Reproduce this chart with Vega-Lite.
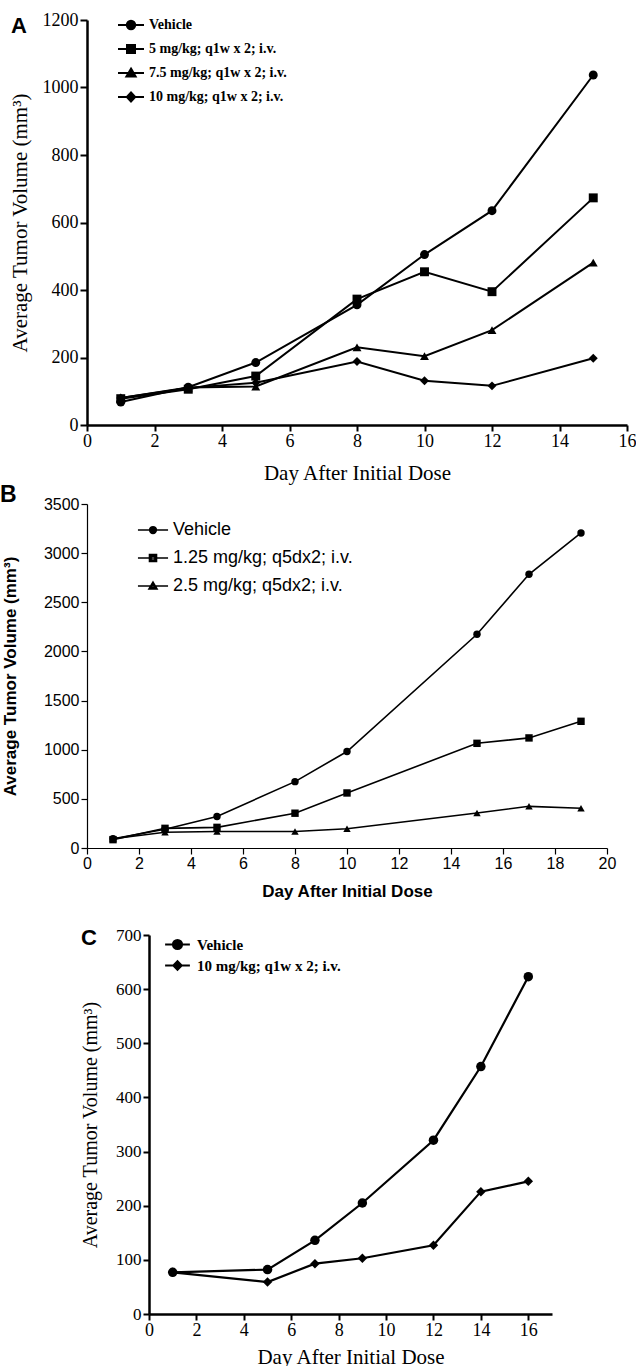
{
  "$schema": "https://vega.github.io/schema/vega-lite/v6.json",
  "padding": {"left": 0, "top": 11, "right": 0, "bottom": 0},
  "background": "white",
  "config": {
    "view": {"stroke": null},
    "axis": {"grid": false, "domainColor": "#000", "tickColor": "#000", "labelColor": "#000", "titleColor": "#000", "labelFlush": false, "labelOverlap": false, "format": "d"}
  },
  "datasets": {
    "d": [
      {"panel": "A", "group": "Vehicle", "day": 1, "volume": 68},
      {"panel": "A", "group": "Vehicle", "day": 3, "volume": 112},
      {"panel": "A", "group": "Vehicle", "day": 5, "volume": 185},
      {"panel": "A", "group": "Vehicle", "day": 8, "volume": 356},
      {"panel": "A", "group": "Vehicle", "day": 10, "volume": 505},
      {"panel": "A", "group": "Vehicle", "day": 12, "volume": 635},
      {"panel": "A", "group": "Vehicle", "day": 15, "volume": 1037},
      {"panel": "A", "group": "5 mg/kg; q1w x 2; i.v.", "day": 1, "volume": 78},
      {"panel": "A", "group": "5 mg/kg; q1w x 2; i.v.", "day": 3, "volume": 106},
      {"panel": "A", "group": "5 mg/kg; q1w x 2; i.v.", "day": 5, "volume": 145},
      {"panel": "A", "group": "5 mg/kg; q1w x 2; i.v.", "day": 8, "volume": 373},
      {"panel": "A", "group": "5 mg/kg; q1w x 2; i.v.", "day": 10, "volume": 454},
      {"panel": "A", "group": "5 mg/kg; q1w x 2; i.v.", "day": 12, "volume": 395},
      {"panel": "A", "group": "5 mg/kg; q1w x 2; i.v.", "day": 15, "volume": 673},
      {"panel": "A", "group": "7.5 mg/kg; q1w x 2; i.v.", "day": 1, "volume": 80},
      {"panel": "A", "group": "7.5 mg/kg; q1w x 2; i.v.", "day": 3, "volume": 111},
      {"panel": "A", "group": "7.5 mg/kg; q1w x 2; i.v.", "day": 5, "volume": 114},
      {"panel": "A", "group": "7.5 mg/kg; q1w x 2; i.v.", "day": 8, "volume": 230},
      {"panel": "A", "group": "7.5 mg/kg; q1w x 2; i.v.", "day": 10, "volume": 204},
      {"panel": "A", "group": "7.5 mg/kg; q1w x 2; i.v.", "day": 12, "volume": 281},
      {"panel": "A", "group": "7.5 mg/kg; q1w x 2; i.v.", "day": 15, "volume": 481},
      {"panel": "A", "group": "10 mg/kg; q1w x 2; i.v.", "day": 1, "volume": 80},
      {"panel": "A", "group": "10 mg/kg; q1w x 2; i.v.", "day": 3, "volume": 110},
      {"panel": "A", "group": "10 mg/kg; q1w x 2; i.v.", "day": 5, "volume": 125},
      {"panel": "A", "group": "10 mg/kg; q1w x 2; i.v.", "day": 8, "volume": 188},
      {"panel": "A", "group": "10 mg/kg; q1w x 2; i.v.", "day": 10, "volume": 131},
      {"panel": "A", "group": "10 mg/kg; q1w x 2; i.v.", "day": 12, "volume": 116},
      {"panel": "A", "group": "10 mg/kg; q1w x 2; i.v.", "day": 15, "volume": 198},
      {"panel": "B", "group": "Vehicle", "day": 1, "volume": 94},
      {"panel": "B", "group": "Vehicle", "day": 3, "volume": 190},
      {"panel": "B", "group": "Vehicle", "day": 5, "volume": 320},
      {"panel": "B", "group": "Vehicle", "day": 8, "volume": 675},
      {"panel": "B", "group": "Vehicle", "day": 10, "volume": 982},
      {"panel": "B", "group": "Vehicle", "day": 15, "volume": 2175},
      {"panel": "B", "group": "Vehicle", "day": 17, "volume": 2785},
      {"panel": "B", "group": "Vehicle", "day": 19, "volume": 3205},
      {"panel": "B", "group": "1.25 mg/kg; q5dx2; i.v.", "day": 1, "volume": 85},
      {"panel": "B", "group": "1.25 mg/kg; q5dx2; i.v.", "day": 3, "volume": 200},
      {"panel": "B", "group": "1.25 mg/kg; q5dx2; i.v.", "day": 5, "volume": 210},
      {"panel": "B", "group": "1.25 mg/kg; q5dx2; i.v.", "day": 8, "volume": 354},
      {"panel": "B", "group": "1.25 mg/kg; q5dx2; i.v.", "day": 10, "volume": 560},
      {"panel": "B", "group": "1.25 mg/kg; q5dx2; i.v.", "day": 15, "volume": 1065},
      {"panel": "B", "group": "1.25 mg/kg; q5dx2; i.v.", "day": 17, "volume": 1120},
      {"panel": "B", "group": "1.25 mg/kg; q5dx2; i.v.", "day": 19, "volume": 1289},
      {"panel": "B", "group": "2.5 mg/kg; q5dx2; i.v.", "day": 1, "volume": 94},
      {"panel": "B", "group": "2.5 mg/kg; q5dx2; i.v.", "day": 3, "volume": 160},
      {"panel": "B", "group": "2.5 mg/kg; q5dx2; i.v.", "day": 5, "volume": 168},
      {"panel": "B", "group": "2.5 mg/kg; q5dx2; i.v.", "day": 8, "volume": 168},
      {"panel": "B", "group": "2.5 mg/kg; q5dx2; i.v.", "day": 10, "volume": 196},
      {"panel": "B", "group": "2.5 mg/kg; q5dx2; i.v.", "day": 15, "volume": 356},
      {"panel": "B", "group": "2.5 mg/kg; q5dx2; i.v.", "day": 17, "volume": 424},
      {"panel": "B", "group": "2.5 mg/kg; q5dx2; i.v.", "day": 19, "volume": 404},
      {"panel": "C", "group": "Vehicle", "day": 1, "volume": 77},
      {"panel": "C", "group": "Vehicle", "day": 5, "volume": 82},
      {"panel": "C", "group": "Vehicle", "day": 7, "volume": 136},
      {"panel": "C", "group": "Vehicle", "day": 9, "volume": 205},
      {"panel": "C", "group": "Vehicle", "day": 12, "volume": 321},
      {"panel": "C", "group": "Vehicle", "day": 14, "volume": 457},
      {"panel": "C", "group": "Vehicle", "day": 16, "volume": 623},
      {"panel": "C", "group": "10 mg/kg; q1w x 2; i.v.", "day": 1, "volume": 77},
      {"panel": "C", "group": "10 mg/kg; q1w x 2; i.v.", "day": 5, "volume": 59},
      {"panel": "C", "group": "10 mg/kg; q1w x 2; i.v.", "day": 7, "volume": 93},
      {"panel": "C", "group": "10 mg/kg; q1w x 2; i.v.", "day": 9, "volume": 103},
      {"panel": "C", "group": "10 mg/kg; q1w x 2; i.v.", "day": 12, "volume": 127},
      {"panel": "C", "group": "10 mg/kg; q1w x 2; i.v.", "day": 14, "volume": 226},
      {"panel": "C", "group": "10 mg/kg; q1w x 2; i.v.", "day": 16, "volume": 245}
    ]
  },
  "resolve": {"scale": {"shape": "independent"}, "legend": {"shape": "independent"}},
  "concat": [
    {
      "width": 540, "height": 405,
      "data": {"name": "d"},
      "transform": [{"filter": "datum.panel === 'A'"}],
      "title": {"text": "A", "anchor": "start", "frame": "group", "font": "Liberation Sans", "fontSize": 22, "fontWeight": "bold", "color": "#000", "baseline": "top", "offset": 0, "dx": -76, "dy": 27},
      "encoding": {
        "x": {"field": "day", "type": "quantitative", "scale": {"domain": [0, 16], "nice": false},
          "axis": {"values": [0, 2, 4, 6, 8, 10, 12, 14, 16], "title": "Day After Initial Dose", "labelFont": "Liberation Serif", "labelFontSize": 18, "titleFont": "Liberation Serif", "titleFontSize": 21, "titleFontWeight": "normal", "domainWidth": 2.5, "tickWidth": 2, "tickSize": 6, "labelPadding": 1, "titlePadding": 12}},
        "y": {"field": "volume", "type": "quantitative", "scale": {"domain": [0, 1200], "nice": false},
          "axis": {"values": [0, 200, 400, 600, 800, 1000, 1200], "title": "Average Tumor Volume (mm³)", "labelFont": "Liberation Serif", "labelFontSize": 18, "titleFont": "Liberation Serif", "titleFontSize": 21, "titleFontWeight": "normal", "domainWidth": 2.5, "tickWidth": 2, "tickSize": 7, "labelPadding": 2, "titlePadding": 12}}
      },
      "layer": [
        {"mark": {"type": "point", "filled": false, "stroke": "#000", "strokeWidth": 2, "size": 64, "opacity": 0},
          "encoding": {"shape": {"field": "group", "type": "nominal",
            "scale": {"domain": ["Vehicle", "5 mg/kg; q1w x 2; i.v.", "7.5 mg/kg; q1w x 2; i.v.", "10 mg/kg; q1w x 2; i.v."],
              "range": [
                "M-3.25,0L3.25,0M1.05,0A1.05,1.05,0,1,1,-1.05,0A1.05,1.05,0,1,1,1.05,0ZM0.55,0A0.55,0.55,0,1,1,-0.55,0A0.55,0.55,0,1,1,0.55,0ZM0.15,0A0.15,0.15,0,1,1,-0.15,0A0.15,0.15,0,1,1,0.15,0Z",
                "M-3.25,0L3.25,0M-1,-1L1,-1L1,1L-1,1ZM-0.5,-0.5L0.5,-0.5L0.5,0.5L-0.5,0.5Z",
                "M-3.25,0L3.25,0M0,-1.1L1.15,0.85L-1.15,0.85ZM0,-0.45L0.55,0.5L-0.55,0.5Z",
                "M-3.25,0L3.25,0M0,-1.15L1.05,0L0,1.15L-1.05,0ZM0,-0.55L0.5,0L0,0.55L-0.5,0Z"
              ]},
            "legend": {"title": null, "orient": "none", "legendX": 37, "legendY": -2, "padding": 0, "symbolSize": 64, "symbolFillColor": "#000", "symbolStrokeColor": "#000", "symbolStrokeWidth": 2, "symbolOpacity": 1, "labelFont": "Liberation Serif", "labelFontSize": 14, "labelFontWeight": "bold", "labelColor": "#000", "labelOffset": 11, "rowPadding": 7, "labelLimit": 400,
              "encode": {"symbols": {"update": {"fill": {"value": "#000"}, "stroke": {"value": "#000"}, "strokeWidth": {"value": 2}, "opacity": {"value": 1}}}}}}}},
        {"mark": {"type": "line", "color": "#000", "strokeWidth": 2}, "encoding": {"detail": {"field": "group", "type": "nominal"}}},
        {"mark": {"type": "point", "filled": true, "color": "#000", "size": 80, "opacity": 1},
          "encoding": {"shape": {"field": "group", "type": "nominal", "scale": {"domain": ["Vehicle", "5 mg/kg; q1w x 2; i.v.", "7.5 mg/kg; q1w x 2; i.v.", "10 mg/kg; q1w x 2; i.v."], "range": ["circle", "square", "triangle-up", "diamond"]}, "legend": null}}}
      ],
      "resolve": {"scale": {"shape": "independent"}, "legend": {"shape": "independent"}}
    },
    {
      "concat": [
        {
          "width": 520, "height": 344,
          "data": {"name": "d"},
          "transform": [{"filter": "datum.panel === 'B'"}],
          "title": {"text": "B", "anchor": "start", "frame": "group", "font": "Liberation Sans", "fontSize": 23, "fontWeight": "bold", "color": "#000", "baseline": "top", "offset": 0, "dx": -87, "dy": 11},
          "encoding": {
            "x": {"field": "day", "type": "quantitative", "scale": {"domain": [0, 20], "nice": false},
              "axis": {"values": [0, 2, 4, 6, 8, 10, 12, 14, 16, 18, 20], "title": "Day After Initial Dose", "labelFont": "Liberation Sans", "labelFontSize": 16, "titleFont": "Liberation Sans", "titleFontSize": 17, "titleFontWeight": "bold", "domainWidth": 1.2, "tickWidth": 1.2, "tickSize": 6, "labelPadding": 1, "titlePadding": 12}},
            "y": {"field": "volume", "type": "quantitative", "scale": {"domain": [0, 3500], "nice": false},
              "axis": {"values": [0, 500, 1000, 1500, 2000, 2500, 3000, 3500], "title": "Average Tumor Volume (mm³)", "labelFont": "Liberation Sans", "labelFontSize": 16, "titleFont": "Liberation Sans", "titleFontSize": 17, "titleFontWeight": "bold", "domainWidth": 1.2, "tickWidth": 1.2, "tickSize": 6, "labelPadding": 2, "titlePadding": 24}}
          },
          "layer": [
            {"mark": {"type": "point", "filled": false, "stroke": "#000", "strokeWidth": 1.6, "size": 49, "opacity": 0},
              "encoding": {"shape": {"field": "group", "type": "nominal",
                "scale": {"domain": ["Vehicle", "1.25 mg/kg; q5dx2; i.v.", "2.5 mg/kg; q5dx2; i.v."],
                  "range": [
                    "M-4.3,0L4.3,0M0.95,0A0.95,0.95,0,1,1,-0.95,0A0.95,0.95,0,1,1,0.95,0ZM0.5,0A0.5,0.5,0,1,1,-0.5,0A0.5,0.5,0,1,1,0.5,0ZM0.1,0A0.1,0.1,0,1,1,-0.1,0A0.1,0.1,0,1,1,0.1,0Z",
                    "M-4.3,0L4.3,0M-1,-1L1,-1L1,1L-1,1ZM-0.55,-0.55L0.55,-0.55L0.55,0.55L-0.55,0.55Z",
                    "M-4.3,0L4.3,0M0,-1.1L1.15,0.85L-1.15,0.85ZM0,-0.45L0.55,0.5L-0.55,0.5Z"
                  ]},
                "legend": {"title": null, "orient": "none", "legendX": 57, "legendY": 17, "padding": 0, "symbolSize": 49, "symbolFillColor": "#000", "symbolStrokeColor": "#000", "symbolStrokeWidth": 1.6, "symbolOpacity": 1, "labelFont": "Liberation Sans", "labelFontSize": 18, "labelColor": "#000", "labelOffset": 11, "rowPadding": 10, "labelLimit": 400,
                  "encode": {"symbols": {"update": {"fill": {"value": "#000"}, "stroke": {"value": "#000"}, "strokeWidth": {"value": 1.6}, "opacity": {"value": 1}}}}}}}},
            {"mark": {"type": "line", "color": "#000", "strokeWidth": 1.6}, "encoding": {"detail": {"field": "group", "type": "nominal"}}},
            {"mark": {"type": "point", "filled": true, "color": "#000", "size": 55, "opacity": 1},
              "encoding": {"shape": {"field": "group", "type": "nominal", "scale": {"domain": ["Vehicle", "1.25 mg/kg; q5dx2; i.v.", "2.5 mg/kg; q5dx2; i.v."], "range": ["circle", "square", "triangle-up"]}, "legend": null}}}
          ],
          "resolve": {"scale": {"shape": "independent"}, "legend": {"shape": "independent"}}
        },
        {
          "concat": [
            {"width": 1, "height": 1, "data": {"values": []}, "mark": "point", "encoding": {}},
            {
              "width": 403, "height": 379,
              "data": {"name": "d"},
              "transform": [{"filter": "datum.panel === 'C'"}],
              "title": {"text": "C", "anchor": "start", "frame": "group", "font": "Liberation Sans", "fontSize": 22, "fontWeight": "bold", "color": "#000", "baseline": "top", "offset": 0, "dx": -68, "dy": 24},
              "encoding": {
                "x": {"field": "day", "type": "quantitative", "scale": {"domain": [0, 17], "nice": false},
                  "axis": {"values": [0, 2, 4, 6, 8, 10, 12, 14, 16], "title": "Day After Initial Dose", "labelFont": "Liberation Serif", "labelFontSize": 18, "titleFont": "Liberation Serif", "titleFontSize": 21, "titleFontWeight": "normal", "domainWidth": 2.5, "tickWidth": 2, "tickSize": 6, "labelPadding": 1, "titlePadding": 7}},
                "y": {"field": "volume", "type": "quantitative", "scale": {"domain": [0, 700], "nice": false},
                  "axis": {"values": [0, 100, 200, 300, 400, 500, 600, 700], "title": "Average Tumor Volume (mm³)", "labelFont": "Liberation Serif", "labelFontSize": 17, "titleFont": "Liberation Serif", "titleFontSize": 20, "titleFontWeight": "normal", "domainWidth": 2.5, "tickWidth": 2, "tickSize": 6, "labelPadding": 2, "titlePadding": 15}}
              },
              "layer": [
                {"mark": {"type": "point", "filled": false, "stroke": "#000", "strokeWidth": 2, "size": 64, "opacity": 0},
                  "encoding": {"shape": {"field": "group", "type": "nominal",
                    "scale": {"domain": ["Vehicle", "10 mg/kg; q1w x 2; i.v."],
                      "range": [
                        "M-3.1,0L3.1,0M1.15,0A1.15,1.15,0,1,1,-1.15,0A1.15,1.15,0,1,1,1.15,0ZM0.65,0A0.65,0.65,0,1,1,-0.65,0A0.65,0.65,0,1,1,0.65,0ZM0.2,0A0.2,0.2,0,1,1,-0.2,0A0.2,0.2,0,1,1,0.2,0Z",
                        "M-3.1,0L3.1,0M0,-1.1L1.05,0L0,1.1L-1.05,0ZM0,-0.5L0.5,0L0,0.5L-0.5,0Z"
                      ]},
                    "legend": {"title": null, "orient": "none", "legendX": 21, "legendY": 2, "padding": 0, "symbolSize": 64, "symbolFillColor": "#000", "symbolStrokeColor": "#000", "symbolStrokeWidth": 2, "symbolOpacity": 1, "labelFont": "Liberation Serif", "labelFontSize": 15, "labelFontWeight": "bold", "labelColor": "#000", "labelOffset": 12, "rowPadding": 3, "labelLimit": 400,
                      "encode": {"symbols": {"update": {"fill": {"value": "#000"}, "stroke": {"value": "#000"}, "strokeWidth": {"value": 2}, "opacity": {"value": 1}}}}}}}},
                {"mark": {"type": "line", "color": "#000", "strokeWidth": 2.2}, "encoding": {"detail": {"field": "group", "type": "nominal"}}},
                {"mark": {"type": "point", "filled": true, "color": "#000", "size": 90, "opacity": 1},
                  "encoding": {"shape": {"field": "group", "type": "nominal", "scale": {"domain": ["Vehicle", "10 mg/kg; q1w x 2; i.v."], "range": ["circle", "diamond"]}, "legend": null}}}
              ],
              "resolve": {"scale": {"shape": "independent"}, "legend": {"shape": "independent"}}
            }
          ],
          "align": "none",
          "spacing": -8
        }
      ],
      "columns": 1,
      "align": "none",
      "spacing": 27
    }
  ],
  "columns": 1,
  "align": "none",
  "spacing": 1
}
